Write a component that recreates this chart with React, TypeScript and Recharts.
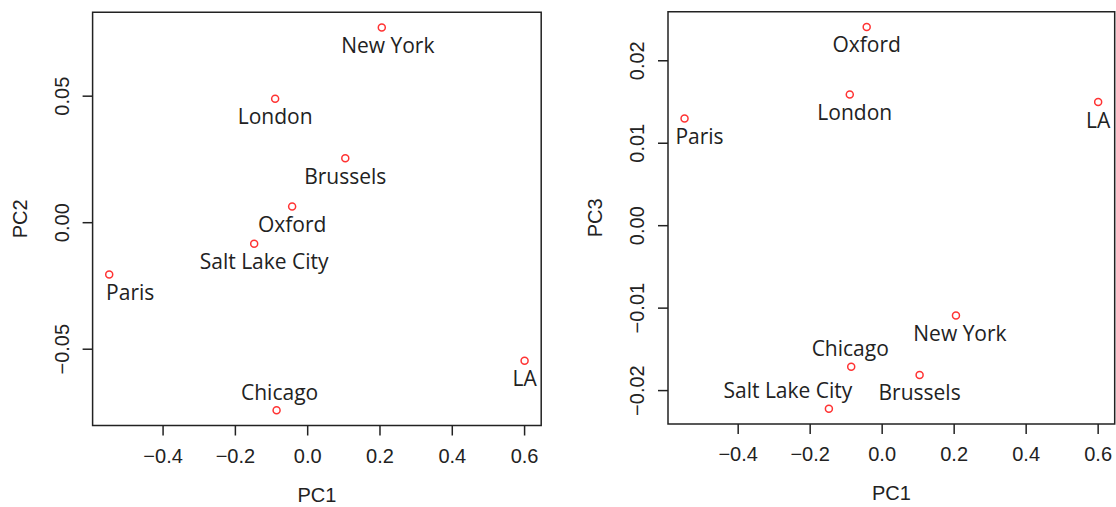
import { ScatterChart, Scatter, XAxis, YAxis, ReferenceArea } from 'recharts';

// PCA scores
const cities = ['New York', 'London', 'Brussels', 'Oxford', 'Salt Lake City', 'Paris', 'LA', 'Chicago'];
const pc1 = [0.205, -0.09, 0.104, -0.043, -0.148, -0.549, 0.6, -0.086];
const pc2 = [0.0771, 0.049, 0.0255, 0.0064, -0.0083, -0.0205, -0.0546, -0.0741];
const pc3 = [-0.0109, 0.0159, -0.0181, 0.0241, -0.0222, 0.013, 0.015, -0.0171];

const pc1Ticks = [-0.4, -0.2, 0, 0.2, 0.4, 0.6];
const pc2Ticks = [-0.05, 0, 0.05];
const pc3Ticks = [-0.02, -0.01, 0, 0.01, 0.02];

// label placement: [dx, above]
type Placement = Record<string, [number, boolean]>;
const leftPlacement: Placement = {
  'New York': [6, false],
  'Salt Lake City': [10, false],
  Paris: [21, false],
  Chicago: [3, true],
};
const rightPlacement: Placement = {
  London: [5, false],
  Paris: [15, false],
  'New York': [4, false],
  'Salt Lake City': [-41, true],
  Chicago: [-1, true],
};

const TICK_FONT = '"Liberation Sans", Arial, sans-serif';
const LABEL_FONT = '"Open Sans", sans-serif';
const INK = '#222';
const POINT = '#f33';

// R-style axis range: data range padded by 4%
function rDomain(v: number[]): [number, number] {
  const lo = Math.min(...v);
  const hi = Math.max(...v);
  const pad = (hi - lo) * 0.04;
  return [lo - pad, hi + pad];
}

const fmt = (v: number, digits: number) => v.toFixed(digits).replace('-', '\u2212');

function makeShape(placement: Placement) {
  return (props: any) => {
    const { cx, cy, payload } = props;
    const [dx, above] = placement[payload.name] ?? [0, false];
    return (
      <g>
        <circle cx={cx} cy={cy} r={3.5} fill="none" stroke={POINT} strokeWidth={1.5} />
        <text
          x={cx + dx}
          y={above ? cy - 10.5 : cy + 25.5}
          textAnchor="middle"
          fontFamily={LABEL_FONT}
          fontSize={21}
          fill={INK}
        >
          {payload.name}
        </text>
      </g>
    );
  };
}

interface PanelProps {
  yValues: number[];
  yTicks: number[];
  yDigits: number;
  yLabel: string;
  plotLeft: number;
  marginTop: number;
  marginRight: number;
  xAxisHeight: number;
  placement: Placement;
}

function Panel({ yValues, yTicks, yDigits, yLabel, plotLeft, marginTop, marginRight, xAxisHeight, placement }: PanelProps) {
  const data = cities.map((name, i) => ({ name, x: pc1[i], y: yValues[i] }));
  const xDom = rDomain(pc1);
  const yDom = rDomain(yValues);

  return (
    <ScatterChart width={558} height={507} margin={{ top: marginTop, right: marginRight, bottom: 0, left: 0 }}>
      <XAxis
        type="number"
        dataKey="x"
        domain={xDom}
        ticks={pc1Ticks}
        tickFormatter={(v) => fmt(v, 1)}
        axisLine={false}
        tickLine={{ stroke: INK, strokeWidth: 1.5 }}
        tickSize={10}
        tickMargin={13}
        height={xAxisHeight}
        tick={{ fill: INK, fontSize: 20, fontFamily: TICK_FONT }}
        interval={0}
        allowDataOverflow
        label={{
          content: ({ viewBox }: any) => (
            <text
              x={viewBox.x + viewBox.width / 2}
              y={viewBox.y + 76}
              textAnchor="middle"
              fontFamily={TICK_FONT}
              fontSize={20}
              fill={INK}
            >
              PC1
            </text>
          ),
        }}
      />
      <YAxis
        type="number"
        dataKey="y"
        domain={yDom}
        ticks={yTicks}
        axisLine={false}
        tickLine={{ stroke: INK, strokeWidth: 1.5 }}
        tickSize={10}
        tickMargin={14}
        width={plotLeft}
        interval={0}
        allowDataOverflow
        tick={({ x, y, payload }: any) => (
          <text
            x={x}
            y={y}
            transform={`rotate(-90 ${x} ${y})`}
            textAnchor="middle"
            fontFamily={TICK_FONT}
            fontSize={20}
            fill={INK}
          >
            {fmt(payload.value, yDigits)}
          </text>
        )}
        label={{
          content: ({ viewBox }: any) => {
            const lx = viewBox.x + viewBox.width - 66;
            const ly = viewBox.y + viewBox.height / 2;
            return (
              <text
                x={lx}
                y={ly}
                transform={`rotate(-90 ${lx} ${ly})`}
                textAnchor="middle"
                fontFamily={TICK_FONT}
                fontSize={20}
                fill={INK}
              >
                {yLabel}
              </text>
            );
          },
        }}
      />
      <ReferenceArea
        x1={xDom[0]}
        x2={xDom[1]}
        y1={yDom[0]}
        y2={yDom[1]}
        fill="none"
        stroke={INK}
        strokeWidth={1.5}
        ifOverflow="visible"
      />
      <Scatter data={data} shape={makeShape(placement)} isAnimationActive={false} />
    </ScatterChart>
  );
}

export default function App() {
  return (
    <div style={{ position: 'absolute', left: 0, top: 0, width: 1116, height: 507, background: '#fff', display: 'flex' }}>
      <Panel
        yValues={pc2}
        yTicks={pc2Ticks}
        yDigits={2}
        yLabel="PC2"
        plotLeft={92.6}
        marginTop={12.3}
        marginRight={16.8}
        xAxisHeight={81.5}
        placement={leftPlacement}
      />
      <Panel
        yValues={pc3}
        yTicks={pc3Ticks}
        yDigits={2}
        yLabel="PC3"
        plotLeft={110}
        marginTop={11.7}
        marginRight={1.3}
        xAxisHeight={83}
        placement={rightPlacement}
      />
    </div>
  );
}
